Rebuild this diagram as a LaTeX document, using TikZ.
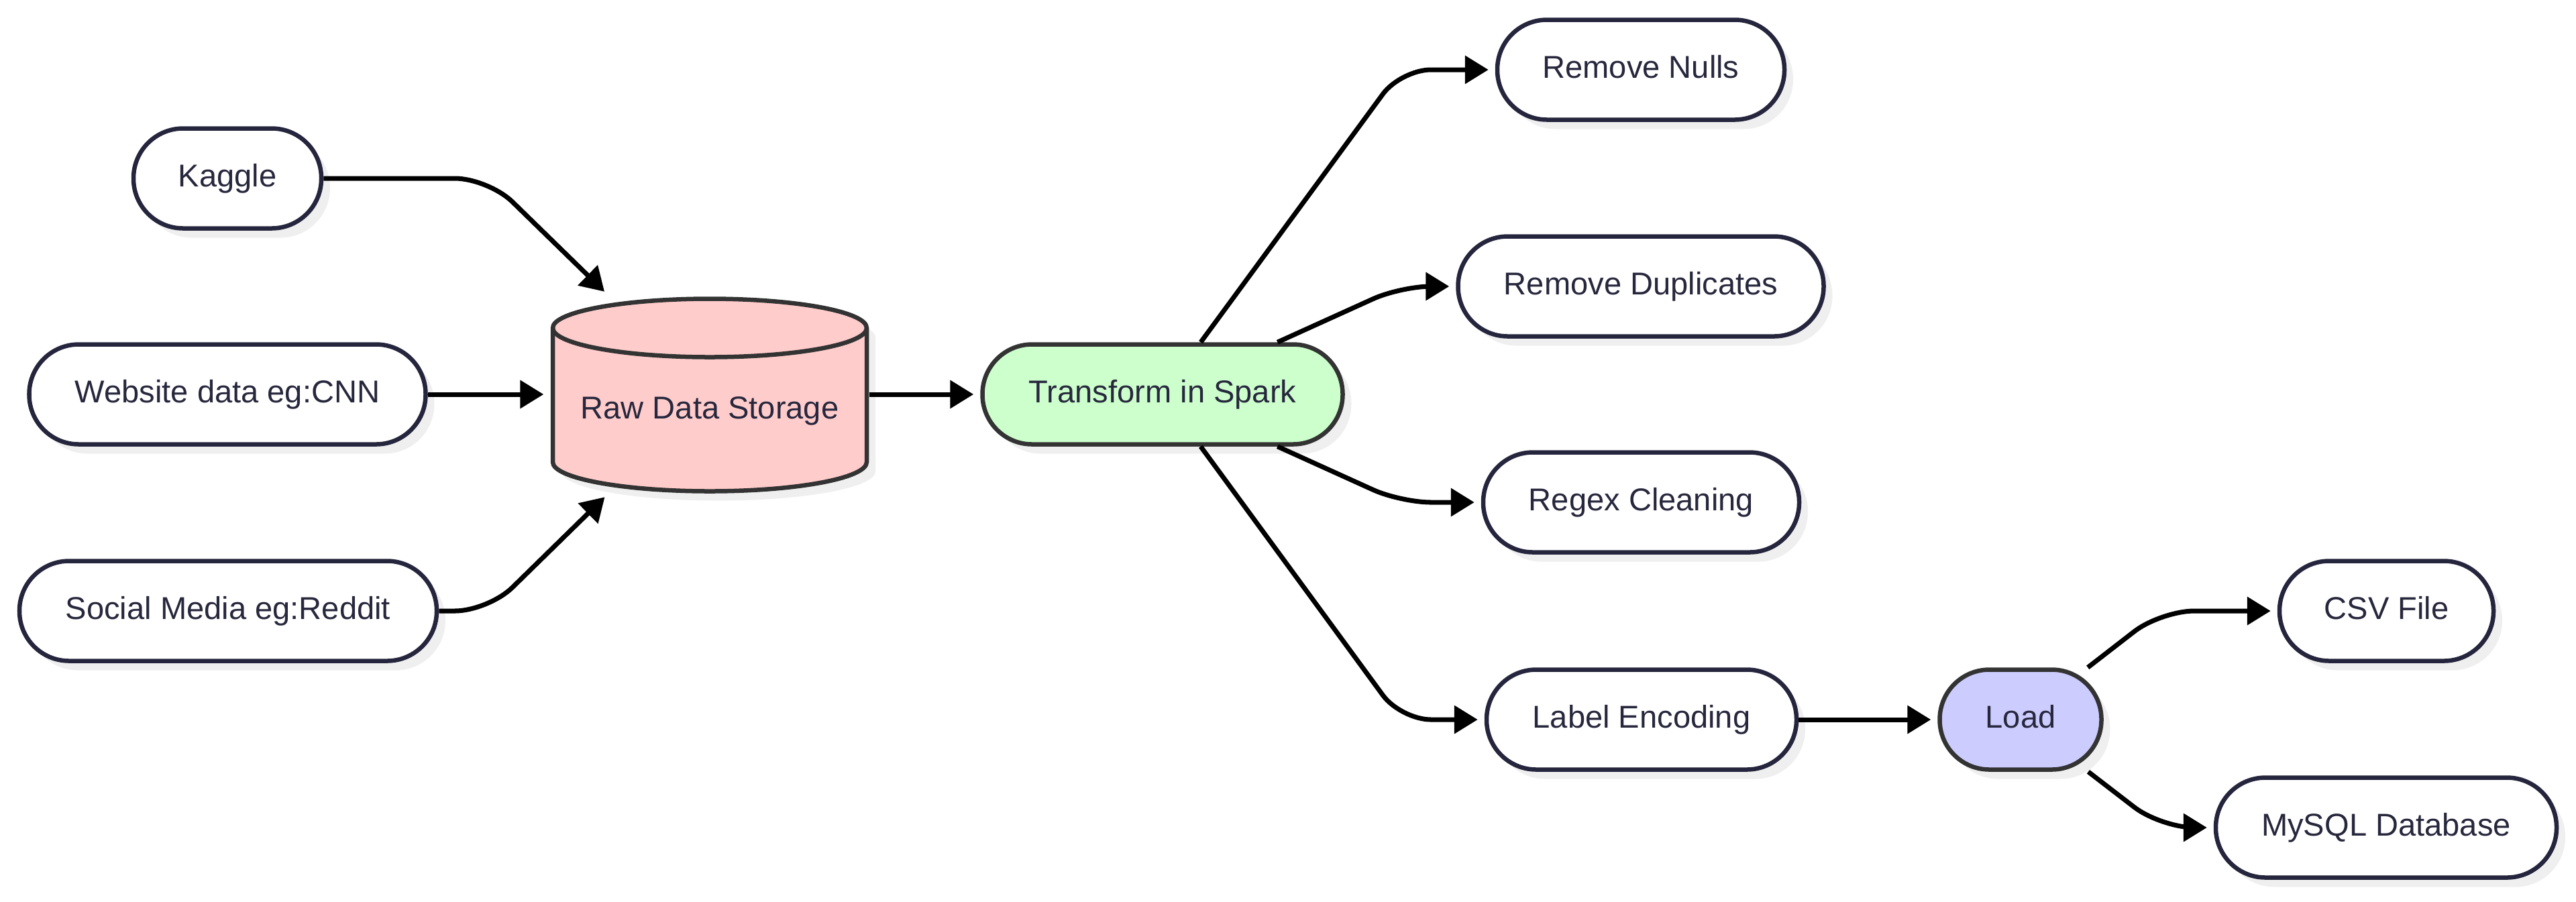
\documentclass[tikz,border=0pt]{standalone}
\usepackage{fontspec}
\setmainfont{Liberation Sans}
\usetikzlibrary{arrows.meta,shadows}
\definecolor{mdtext}{HTML}{27273D}
\definecolor{mdedge}{HTML}{25253D}
\definecolor{mdgray}{HTML}{333333}
\definecolor{mdpink}{HTML}{FFCCCC}
\definecolor{mdgreen}{HTML}{CCFFCC}
\definecolor{mdblue}{HTML}{CCCCFF}
\definecolor{mdshadow}{HTML}{EFEFEF}

\begin{document}
\begin{tikzpicture}[
  box/.style={rectangle,rounded corners=0.74cm,minimum height=1.49cm,
              draw=mdedge,line width=1.85pt,fill=white,text=mdtext,
              font=\fontsize{13.4}{16}\selectfont,text height=0.72em,text depth=0pt,
              drop shadow={shadow xshift=0.13cm,shadow yshift=-0.14cm,
                           fill=mdshadow,opacity=1}},
  sparkbox/.style={box,draw=mdgray,fill=mdgreen},
  loadbox/.style={box,draw=mdgray,fill=mdblue},
  lbl/.style={text=mdtext,font=\fontsize{13.4}{16}\selectfont,
              text height=0.72em,text depth=0pt},
  flow/.style={-{Triangle[length=0.35cm,width=0.41cm]},line width=2pt,
               black,shorten >=0.1cm,rounded corners=0.5cm}
]
\useasboundingbox (0,0) rectangle (38.4,-13.44);

% ---- Sources -------------------------------------------------
\node[box,minimum width=2.80cm] (kaggle) at (3.39,-2.66) {Kaggle};
\node[box,minimum width=5.91cm] (web)    at (3.39,-5.88) {Website data eg:CNN};
\node[box,minimum width=6.22cm] (social) at (3.40,-9.11) {Social Media eg:Reddit};

% ---- Raw storage (cylinder) ----------------------------------
\fill[mdshadow,shift={(0.13,-0.14)}] (8.24,-4.89) -- (8.24,-6.89)
  arc[start angle=180,end angle=360,x radius=2.34,y radius=0.435] -- (12.92,-4.89)
  arc[start angle=0,end angle=180,x radius=2.34,y radius=0.435] -- cycle;
\filldraw[fill=mdpink,draw=mdgray,line width=1.85pt] (8.24,-4.89) -- (8.24,-6.89)
  arc[start angle=180,end angle=360,x radius=2.34,y radius=0.435] -- (12.92,-4.89)
  arc[start angle=0,end angle=180,x radius=2.34,y radius=0.435] -- cycle;
\draw[mdgray,line width=1.85pt] (8.24,-4.89)
  arc[start angle=180,end angle=360,x radius=2.34,y radius=0.435];
\node[inner sep=0,minimum width=4.74cm,minimum height=2.91cm] (raw) at (10.58,-5.88) {};
\node[lbl] (rawtxt) at (10.58,-6.12) {Raw Data Storage};

% ---- Transform and cleaning steps ----------------------------
\node[sparkbox,minimum width=5.37cm] (spark) at (17.33,-5.88) {Transform in Spark};
\node[box,minimum width=4.28cm] (nulls) at (24.46,-1.04)  {Remove Nulls};
\node[box,minimum width=5.45cm] (dups)  at (24.46,-4.27)  {Remove Duplicates};
\node[box,minimum width=4.71cm] (regex) at (24.465,-7.49) {Regex Cleaning};
\node[box,minimum width=4.62cm] (label) at (24.47,-10.73) {Label Encoding};

% ---- Load and sinks ------------------------------------------
\node[loadbox,minimum width=2.41cm] (load) at (30.12,-10.73) {Load};
\node[box,minimum width=3.19cm] (csv)   at (35.575,-9.11)  {CSV File};
\node[box,minimum width=5.08cm] (mysql) at (35.57,-12.34)  {MySQL Database};

% bends of the connectors
\coordinate (ck) at (7.28,-2.66);
\coordinate (cs) at (7.28,-9.11);
\coordinate (c1) at (20.88,-1.04);
\coordinate (c2) at (20.88,-4.27);
\coordinate (c3) at (20.88,-7.49);
\coordinate (c4) at (20.88,-10.73);
\coordinate (c5) at (32.21,-9.11);
\coordinate (c6) at (32.21,-12.34);

% ---- Connectors ----------------------------------------------
\draw[flow] (kaggle) -- (ck) -- (raw);
\draw[flow] (web) -- (raw);
\draw[flow] (social) -- (cs) -- (raw);
\draw[flow] (raw) -- (spark);
\draw[flow,rounded corners=0.45cm] (spark) -- (c1) -- (nulls);
\draw[flow,rounded corners=0.45cm] (spark) -- (c2) -- (dups);
\draw[flow,rounded corners=0.45cm] (spark) -- (c3) -- (regex);
\draw[flow,rounded corners=0.45cm] (spark) -- (c4) -- (label);
\draw[flow] (label) -- (load);
\draw[flow] (load) -- (c5) -- (csv);
\draw[flow] (load) -- (c6) -- (mysql);

\end{tikzpicture}
\end{document}
